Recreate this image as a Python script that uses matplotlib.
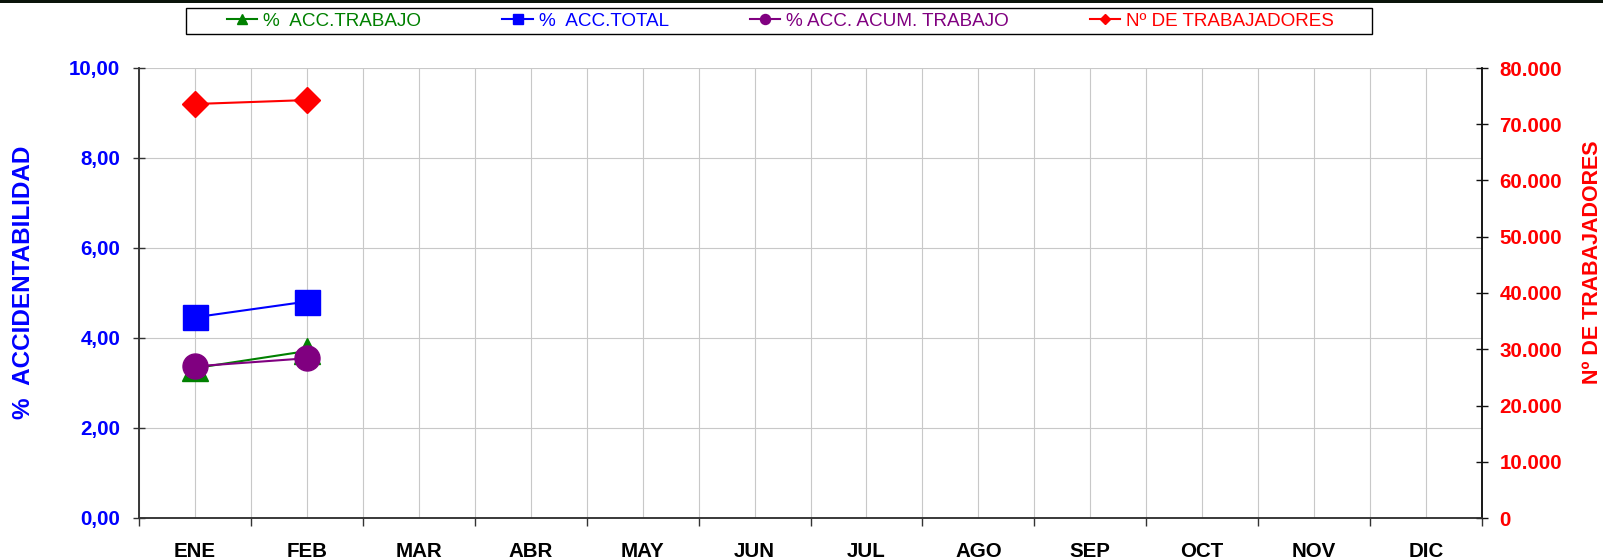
import matplotlib
matplotlib.use('Agg')
import matplotlib.pyplot as plt
from matplotlib.patches import Rectangle
from matplotlib.ticker import FuncFormatter

# Chart data
months = ['ENE', 'FEB', 'MAR', 'ABR', 'MAY', 'JUN', 'JUL', 'AGO', 'SEP', 'OCT', 'NOV', 'DIC']
acc_trabajo = [3.33, 3.71]
acc_total = [4.46, 4.81]
acc_acum_trabajo = [3.37, 3.55]
n_trabajadores = [73600, 74300]

plt.rcParams['font.family'] = ['Liberation Sans', 'DejaVu Sans']

fig = plt.figure(figsize=(16.03, 5.6), dpi=100)
ax = fig.add_axes([139 / 1603, 1 - 518 / 560, 1343 / 1603, 450 / 560])
ax2 = ax.twinx()

x_all = list(range(1, len(months) + 1))
x_data = x_all[:len(acc_trabajo)]

# Percent series on the left axis
ax.plot(x_data, acc_trabajo, color='#008000', lw=1.5, marker='^', markersize=19,
        label='%  ACC.TRABAJO')
ax.plot(x_data, acc_total, color='#0000ff', lw=1.5, marker='s', markersize=18,
        label='%  ACC.TOTAL')
ax.plot(x_data, acc_acum_trabajo, color='#800080', lw=1.5, marker='o', markersize=18,
        label='% ACC. ACUM. TRABAJO')

# Number of workers on the right axis
ax2.plot(x_data, n_trabajadores, color='#ff0000', lw=1.5, marker='D', markersize=13,
         label='Nº DE TRABAJADORES')

# Left axis
ax.set_xlim(0.5, 12.5)
ax.set_ylim(0, 10)
ax.set_yticks([0, 2, 4, 6, 8, 10])
ax.yaxis.set_major_formatter(FuncFormatter(lambda v, p: f'{v:.2f}'.replace('.', ',')))
ax.tick_params(axis='y', direction='inout', length=8, width=1, pad=9.5,
               labelsize=14.8, labelcolor='#0000ff', color='#333333')
for lab in ax.get_yticklabels():
    lab.set_fontweight('bold')

# x axis: ticks at month boundaries, labels at month centres
ax.set_xticks([i + 0.5 for i in range(0, 13)])
ax.set_xticklabels([])
ax.set_xticks(x_all, minor=True)
ax.set_xticklabels(months, minor=True, fontsize=14.8, fontweight='bold')
ax.tick_params(axis='x', which='major', direction='out', length=6, width=1, color='#333333')
ax.tick_params(axis='x', which='minor', length=0, pad=17)

ax.grid(True, which='both', axis='x', color='#c8c8c8', lw=0.8)
ax.grid(True, which='major', axis='y', color='#c8c8c8', lw=0.8)
ax.set_axisbelow(True)

# Right axis
ax2.set_ylim(0, 80000)
ax2.set_yticks(range(0, 80001, 10000))
ax2.yaxis.set_major_formatter(FuncFormatter(lambda v, p: f'{int(v):,}'.replace(',', '.')))
ax2.tick_params(axis='y', direction='inout', length=8, width=1, pad=8.5,
                labelsize=14.8, labelcolor='#ff0000', color='#111111')
for lab in ax2.get_yticklabels():
    lab.set_fontweight('bold')

for a in (ax, ax2):
    a.spines['top'].set_visible(False)
    a.spines['left'].set_color('#333333')
    a.spines['bottom'].set_color('#333333')
    a.spines['right'].set_color('#111111')
    for s in ('left', 'right', 'bottom'):
        a.spines[s].set_linewidth(1.1)

# Axis titles
ax.set_ylabel('%  ACCIDENTABILIDAD', color='#0000ff', fontsize=17.5, fontweight='bold', va='center')
ax.yaxis.set_label_coords((24 - 139) / 1343, (518 - 282) / 450)
ax2.set_ylabel('Nº DE TRABAJADORES', color='#ff0000', fontsize=15.5, fontweight='bold',
               va='center', rotation=90)
ax2.yaxis.set_label_coords((1592 - 139) / 1343, (518 - 262) / 450)

# Legend across the top with its own frame
handles = ax.get_lines() + ax2.get_lines()
leg = fig.legend(handles, [h.get_label() for h in handles], ncol=4, frameon=False,
                 loc='center left', bbox_to_anchor=(227 / 1603, 1 - 21 / 560),
                 borderpad=0, borderaxespad=0, fontsize=13.6, markerscale=0.4,
                 handlelength=1.6, handletextpad=0.32, columnspacing=4.3)
for txt, h in zip(leg.get_texts(), handles):
    txt.set_color(h.get_color())
fig.add_artist(Rectangle((186 / 1603, 1 - 34 / 560), 1186 / 1603, 26 / 560,
                         transform=fig.transFigure, fill=False, edgecolor='black', lw=1))

# Dark band along the top edge
fig.add_artist(Rectangle((0, 1 - 2.5 / 560), 1, 2.5 / 560, transform=fig.transFigure,
                         facecolor='#0a140a', edgecolor='none'))

fig.savefig('out.png', dpi=100)
